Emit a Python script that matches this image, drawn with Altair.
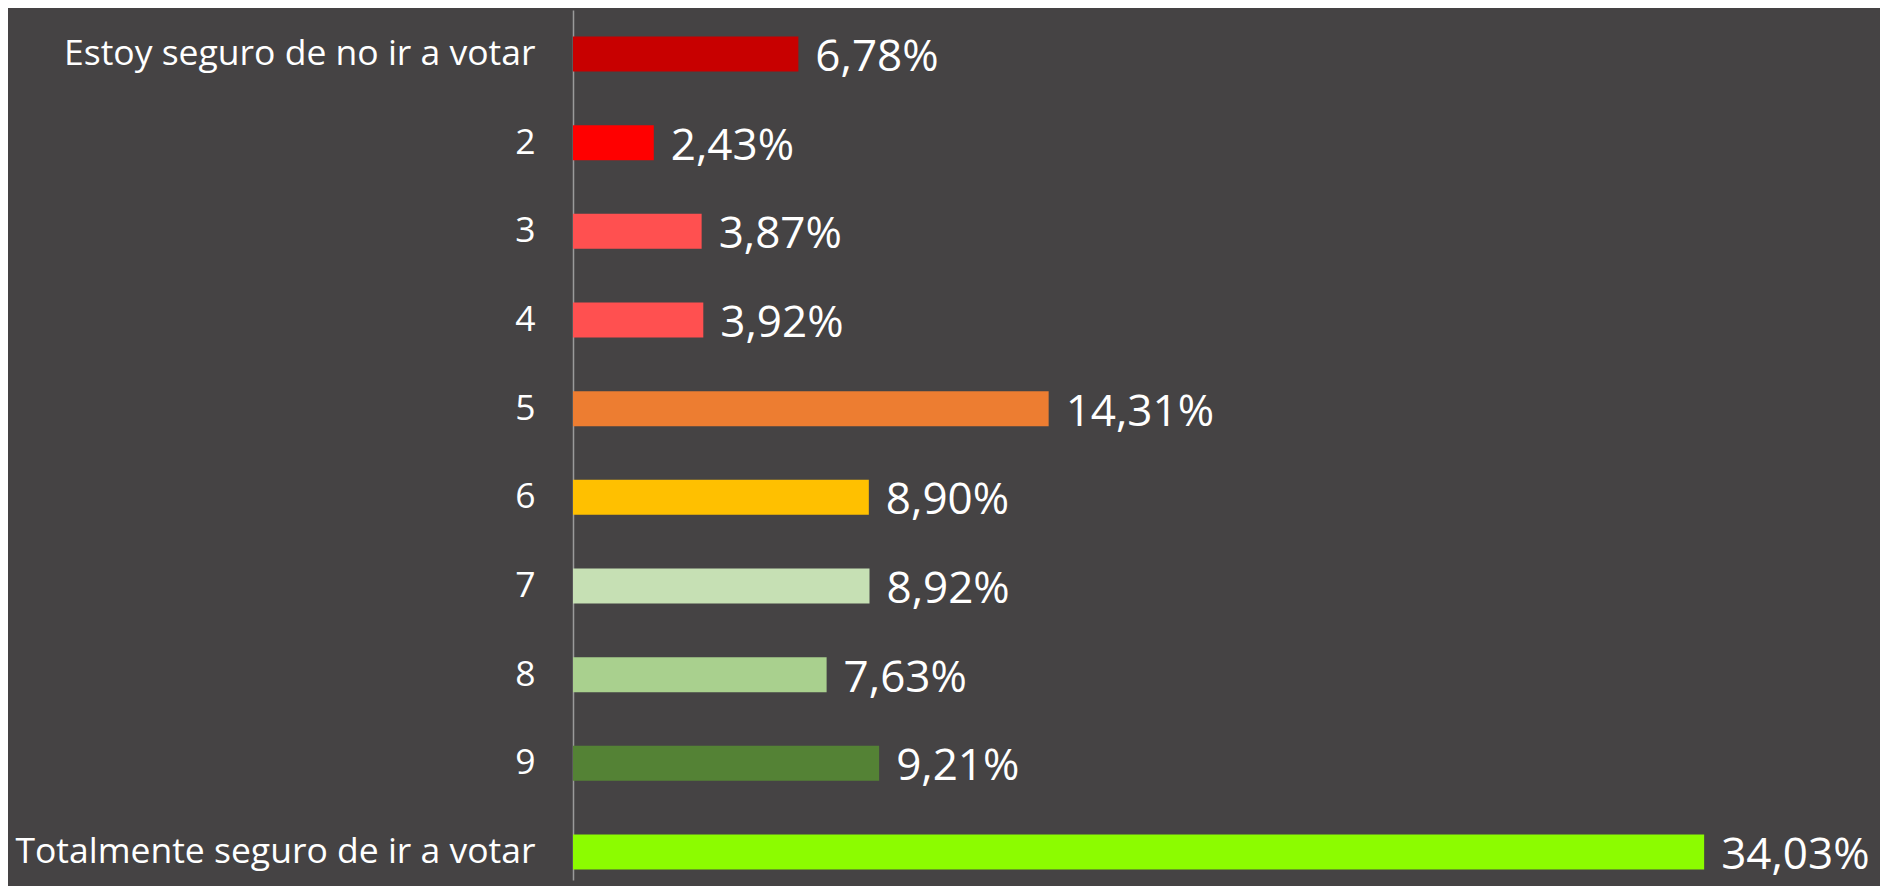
import altair as alt
import pandas as pd

categories = [
    "Estoy seguro de no ir a votar", "2", "3", "4", "5", "6", "7", "8", "9",
    "Totalmente seguro de ir a votar",
]
values = [6.78, 2.43, 3.87, 3.92, 14.31, 8.90, 8.92, 7.63, 9.21, 34.03]
value_labels = ["6,78%", "2,43%", "3,87%", "3,92%", "14,31%", "8,90%",
                "8,92%", "7,63%", "9,21%", "34,03%"]
colors = ["#C80000", "#FF0000", "#FF5050", "#FF5050", "#ED7D31", "#FFC000",
          "#C6E0B4", "#A9D08E", "#548235", "#8CFC00"]

df = pd.DataFrame({"cat": categories, "val": values, "lab": value_labels})

FONT = "Open Sans, sans-serif"

y_enc = alt.Y(
    "cat:N", sort=categories, title=None,
    scale=alt.Scale(paddingInner=0.605, paddingOuter=0.2087, align=0.716),
    axis=alt.Axis(domain=True, domainColor="#9a9a9a", domainWidth=1.5,
                  ticks=False, grid=False, labelPadding=38,
                  labelColor="#ffffff", labelFontSize=35.5, labelFont=FONT,
                  labelLimit=600),
)
x_enc = alt.X("val:Q", title=None, axis=None,
              scale=alt.Scale(domain=[0, 39.11], nice=False, zero=True))

bars = alt.Chart(df).mark_bar().encode(
    x=x_enc, y=y_enc,
    color=alt.Color("cat:N", sort=categories,
                    scale=alt.Scale(domain=categories, range=colors),
                    legend=None),
)
text = alt.Chart(df).mark_text(
    align="left", baseline="middle", dx=17, dy=4,
    fontSize=44, font=FONT, color="#ffffff",
).encode(x=x_enc, y=y_enc, text="lab:N")

chart = (
    alt.layer(bars, text)
    .properties(width=1300, height=870, background="#454344",
                autosize=alt.AutoSizeParams(type="none"),
                padding={"left": 565, "top": 2, "right": 7, "bottom": 6})
    .configure_view(stroke=None)
)
chart.save("out.html", embed_options={"renderer": "svg", "actions": False})
